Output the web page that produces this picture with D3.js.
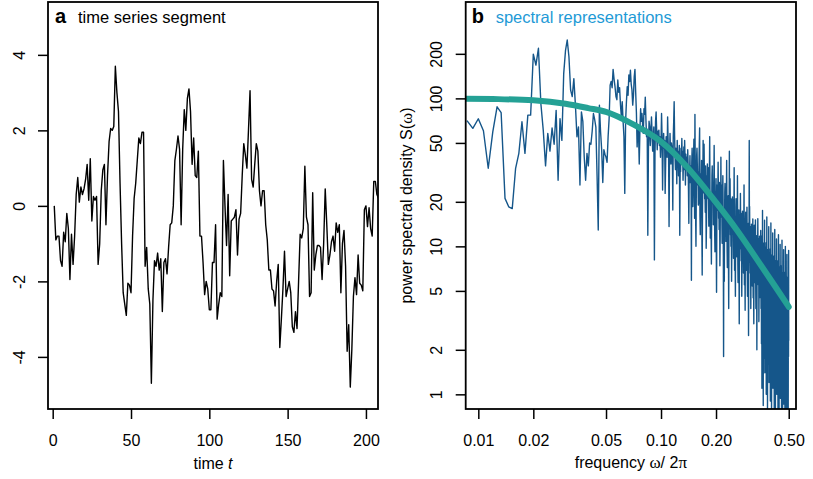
<!DOCTYPE html>
<html>
<head>
<meta charset="utf-8">
<script src="https://cdn.jsdelivr.net/npm/d3@7"></script>
<style>
  body { margin: 0; background: #fff; }
  svg { display: block; font-family: "Liberation Sans", Arial, Helvetica, sans-serif; }
</style>
</head>
<body>
<div id="chart"></div>
<script>
// panel a: time series segment, value at t = 1, 2, 3, ...
let seriesValues = [
  0.0, -0.9, -0.8, -0.8, -1.45, -1.6, -0.7, -0.95, -0.2, -0.6,
  -1.95, -0.75, -1.55, -0.8, 0.3, 0.75, 0.1, 0.5, 0.3, 0.45,
  0.7, 1.1, 0.15, 1.25, -0.4, 0.25, 0.15, 0.25, -1.55, -1.0,
  0.4, 0.95, 1.1, -0.5, 0.8, 1.7, 2.05, 2.0, 2.1, 3.7,
  3.0, 2.5, 0.6, -1.0, -2.3, -2.6, -2.9, -2.05, -2.1, -2.3,
  -0.8, 0.2, 0.6, 1.2, 1.8, 1.65, 1.95, 1.95, -1.6, -1.1,
  -2.2, -2.6, -4.7, -2.5, -1.45, -1.6, -1.25, -1.7, -1.4, -2.8,
  -1.5, -1.4, -1.8, -1.1, -0.5, -0.45, 0.0, 1.2, 1.5, 1.85,
  1.5, -0.5, 1.5, 2.55, 2.0, 2.85, 3.1, 2.5, 1.1, 1.8,
  0.8, 0.75, 1.45, -0.8, -0.8, -1.5, -2.35, -2.0, -2.2, -2.75,
  -2.75, -1.5, -1.5, -0.5, -3.0, -2.6, -2.3, -2.4, 1.2, 0.0,
  -1.05, 0.3, -1.85, -0.4, -0.35, -0.3, -0.1, -1.3, -0.35, -0.2,
  0.8, 1.65, 1.35, 1.0, 2.0, 3.05, 0.7, 0.5, 1.1, 1.65,
  1.45, 0.4, 0.0, 0.4, 0.4, -0.5, -0.9, -1.7, -1.7, -2.2,
  -2.25, -2.65, -2.0, -1.55, -3.75, -3.0, -2.2, -1.2, -2.4, -2.2,
  -2.0, -2.3, -3.2, -3.35, -2.8, -3.25, -2.0, -0.75, -0.85, -0.6,
  1.05, -0.3, -0.5, -2.4, -2.3, 0.35, -1.7, -1.3, -1.05, -1.05,
  -1.1, -1.95, -1.0, 0.45, -0.5, -1.55, -1.3, -0.95, -0.8, -1.2,
  -0.45, -0.7, -0.5, -2.3, -1.0, -0.65, -1.6, -3.85, -3.15, -4.8,
  -3.8, -2.4, -1.9, -2.35, -1.3, -2.05, -2.1, -2.25, -0.1, 0.0,
  -0.55, -0.05, -0.6, -0.8, 0.65, 0.65, 0.3, 0.2
];
let timeTicks = [0, 50, 100, 150, 200];
let seriesTicks = [-4, -2, 0, 2, 4];

// panel b: periodogram, frequency = k / psdLength for k = psdFirstIndex, ...
let psdFirstIndex = 13;
let psdLength = 1500;
let psdValues = [
  // k = 13 ...
  70.7, 62.7, 72.8, 60.4, 33.7, 59.4, 87.7, 80, 21.1, 18.5,
  18, 33.7, 42.5, 69.5, 42.5, 77, 77, 199, 168, 218,
  92, 61, 35, 58, 44, 63, 49, 83, 28, 73,
  52, 147, 210, 248, 191, 114, 103, 136, 90, 55,
  64, 26, 81, 70, 40, 28, 42.5, 35, 50, 49,
  60, 79, 72, 64, 30, 12.9, 90, 60, 45, 27,
  45, 42, 40, 37, 55, 73, 123, 130, 118, 157,
  135, 120, 103,
  // k = 86 ...
  98, 133, 110, 118, 90, 75, 95, 70, 55, 22.8,
  70, 95, 120, 105, 144, 130, 155, 125, 114, 90,
  105, 140, 157, 110, 80, 47, 65, 58, 36, 62,
  85, 70, 79, 66, 58, 85, 78, 102, 72, 55,
  62, 11.9, 45, 70, 64, 48, 60, 75, 58, 44,
  55, 64, 8.1, 42, 70, 81, 60, 45, 60, 52,
  61, 48, 55, 40, 50, 79, 55, 24, 44, 58,
  46, 52, 22.8, 36, 55, 48, 40, 75, 52, 42,
  13.6, 40, 58, 44, 36, 50, 47, 42, 17.6, 55,
  70, 95, 56, 40, 33, 46, 42, 26.5, 52, 38,
  44, 30, 38, 48, 11.9, 36, 32, 46, 38, 53.6,
  36, 44, 28, 38, 47, 33, 52, 40, 26, 42,
  34, 40, 38, 30, 45, 36, 24, 14.3, 35, 30,
  41, 27, 33, 35, 5.9,
  // k = 221 ...
  37, 46, 28, 18.6, 25, 40, 53, 34, 15.5, 78,
  29, 16, 10, 23, 41, 46, 35, 26, 32, 19,
  20, 35, 49, 63, 16, 12, 23, 31, 26, 38,
  13, 6.4, 18, 28, 52, 23, 31, 49, 33, 21,
  25, 17, 35, 24, 9.7, 14.5, 30, 21, 36, 28,
  27, 34, 20.5, 13.7, 18, 30, 55, 25, 11.4, 16,
  21.7, 12, 7.6, 17.4, 30, 35, 26, 19.5, 24, 14,
  15.4, 27, 48, 25.6, 12.3, 9.2, 17.4, 23.6, 19.5, 28.7,
  9.7, 4.9, 13.6, 21, 26, 17.5, 23, 37, 25, 15.5,
  19.4, 13, 27, 18.5, 7.4, 11, 23, 15.7, 40, 21,
  21, 26, 15.8, 10.5, 14, 23, 30, 19, 8.8, 1.8,
  16.6, 9.1, 5.8, 13.3, 23, 26.6, 20, 15, 18.3, 10.8,
  12, 20.7, 38, 19.9, 9.5, 7.2, 13.5, 18.3, 15.1, 22,
  7.6, 3.8, 10.6, 16.6, 44, 13.6, 18.1, 28.7, 19.6, 12,
  15.1, 10, 20.9, 14.4, 5.8, 8.6, 18, 12.2, 21.6, 16.6,
  16.6, 20.7, 12.4, 8.3, 11, 17.9, 34, 15.2, 6.9, 9.7,
  13.1, 7.2, 4.6, 10.5, 18.3, 21, 15.7, 11.8, 14.4, 8.5,
  9.5, 16.4, 30, 15.8, 7.6, 5.7, 10.7, 14.5, 12, 17.6,
  6, 3, 8.4, 13.2, 16.2, 10.8, 14.4, 22.8, 15.6, 9.6,
  12.1, 8, 16.7, 11.5, 4.6, 6.9, 14.4, 9.8, 17.3, 13.2,
  13.2, 16.5, 9.9, 6.6, 8.8, 14.3, 26, 12.1, 5.5, 7.7,
  10.6, 5.8, 3.7, 8.5, 14.8, 17, 12.7, 9.5, 11.7, 6.9,
  7.7, 13.3, 18.4, 12.8, 6.1, 4.6, 8.7, 11.7, 9.7, 14.3,
  4.9, 2.5, 6.9, 10.8, 13.2, 52, 11.8, 18.6, 12.7, 7.8,
  9.9, 6.6, 13.6, 9.4, 3.8, 5.6, 11.8, 8, 14.1, 10.8,
  10.8, 13.5, 8.1, 5.4, 7.2, 11.7, 15.3, 9.9, 4.5, 6.3,
  8.7, 4.8, 3.0, 7, 12.2, 13.9, 10.4, 7.8, 9.6, 5.7,
  6.3, 10.9, 15.1, 10.5, 5, 3.8, 7.1, 9.7, 8, 11.8,
  4, 2.0, 5.7, 8.9, 10.9, 7.3, 9.7, 15.4, 10.5, 6.5,
  8.2, 5.5, 11.3, 7.8, 3.1, 4.7, 9.8, 6.6, 11.7, 9,
  9, 11.3, 6.8, 4.5, 6, 9.8, 12.8, 8.3, 3.8, 5.3,
  // k = 531 ...
  8.8, 2.2, 6.6, 11.7, 1.1, 5.1, 8, 3.3, 17.5, 4.4,
  5.6, 9.8, 2.5, 0.84, 7, 10.5, 3.9, 6.3, 1.75, 9.1,
  3.4, 7.5, 15, 5.1, 1.4, 6.5, 8.8, 2.7, 4.4, 9.9,
  7.9, 2, 5.9, 10.6, 1.0, 4.6, 7.3, 3, 15.8, 4,
  5, 8.8, 2.2, 0.76, 6.3, 9.5, 3.5, 5.7, 1.6, 8.2,
  3.1, 6.8, 13.6, 4.7, 1.2, 5.9, 8.1, 2.5, 4, 9,
  7.2, 1.8, 5.4, 9.6, 0.9, 4.2, 6.6, 2.7, 14.4, 3.6,
  4.6, 8.1, 2, 0.7, 5.8, 8.7, 3.2, 5.2, 1.45, 7.5,
  2.8, 6.2, 12.3, 4.2, 1.1, 5.3, 7.3, 2.2, 3.6, 8.1,
  6.5, 1.6, 4.9, 8.6, 0.8, 3.8, 5.9, 2.4, 13, 3.2,
  4.2, 7.4, 1.9, 0.64, 5.3, 8, 2.9, 4.8, 1.3, 6.9,
  2.6, 5.6, 11.2, 3.8, 1.0, 4.8, 6.6, 2, 3.3, 7.4,
  6, 1.5, 4.5, 8, 0.75, 3.5, 5.5, 2.3, 12, 3,
  3.8, 6.7, 1.7, 0.58, 4.8, 7.2, 2.6, 4.3, 1.2, 6.2,
  2.4, 5.2, 10.3, 3.5, 0.94, 4.5, 6.1, 1.9, 3.1, 6.8,
  5.5, 1.4, 4.1, 7.4, 0.7, 3.2, 5.1, 2.1, 11, 2.8,
  3.5, 6.2, 1.5, 0.53, 4.4, 6.6, 2.4, 4, 1.1, 5.7,
  2.2, 4.7, 9.5, 3.2, 0.86, 4.1, 5.6, 1.7, 2.8, 6.2,
  5, 1.3, 3.8, 6.7, 0.63, 2.9, 4.6, 1.9, 10, 2.5,
  3.3, 5.7, 1.4, 0.5, 4.1, 6.2, 2.3, 3.7, 1.0, 5.3,
  2, 4.4, 8.8, 3, 0.8, 3.8, 5.2, 1.6, 2.6, 5.8,
  4.7, 1.2, 3.5, 6.2, 0.6, 2.7, 4.3, 1.8, 9.4, 2.3
];

// smooth spectral density (teal curve)
let curveFreqs = [0.0085, 0.012, 0.02, 0.03, 0.04, 0.05, 0.07, 0.1, 0.14, 0.2, 0.26, 0.33, 0.42, 0.5];
let curveValues = [99.5, 99, 97, 92, 86, 81, 67, 51, 34, 19.8, 12.9, 8.4, 5.4, 3.9];

let freqTicks = [0.01, 0.02, 0.05, 0.1, 0.2, 0.5];
let freqTickLabels = ["0.01", "0.02", "0.05", "0.10", "0.20", "0.50"];
let psdTicks = [1, 2, 5, 10, 20, 50, 100, 200];

let width = 813;
let height = 479;

let boxA = { left: 48, right: 378, top: 2, bottom: 409 };
let boxB = { left: 465.7, right: 796, top: 2, bottom: 409 };

let svg = d3
  .select("#chart")
  .append("svg")
  .attr("width", width)
  .attr("height", height);

let defs = svg.append("defs");
addClip("clipA", boxA);
addClip("clipB", boxB);

function addClip(id, box) {
  defs
    .append("clipPath")
    .attr("id", id)
    .append("rect")
    .attr("x", box.left)
    .attr("y", box.top)
    .attr("width", box.right - box.left)
    .attr("height", box.bottom - box.top);
}

// ---------- panel a ----------
let xA = d3.scaleLinear().domain([-3, 207.7]).range([boxA.left, boxA.right]);
let yA = d3.scaleLinear().domain([-5.38, 5.4]).range([boxA.bottom, boxA.top]);

let seriesData = seriesValues.map(function(v, i) {
  return { t: i + 1, v: v };
});

svg
  .append("path")
  .datum(seriesData)
  .attr("clip-path", "url(#clipA)")
  .attr("fill", "none")
  .attr("stroke", "#000")
  .attr("stroke-width", 1.4)
  .attr("stroke-linejoin", "round")
  .attr("d", d3.line().x(d => xA(d.t)).y(d => yA(d.v)));

drawAxes(
  boxA,
  d3.axisBottom(xA).tickValues(timeTicks).tickFormat(d => String(d)),
  d3.axisLeft(yA).tickValues(seriesTicks).tickFormat(d => String(d)),
  23
);

svg
  .append("text")
  .attr("x", 55)
  .attr("y", 22.7)
  .attr("font-size", 20)
  .attr("font-weight", "bold")
  .text("a");
svg
  .append("text")
  .attr("x", 78)
  .attr("y", 22.7)
  .attr("font-size", 16.5)
  .text("time series segment");

let xTitleA = svg
  .append("text")
  .attr("x", (boxA.left + boxA.right) / 2)
  .attr("y", 469)
  .attr("font-size", 16)
  .attr("text-anchor", "middle");
xTitleA.append("tspan").text("time ");
xTitleA.append("tspan").attr("font-style", "italic").text("t");

// ---------- panel b ----------
let xB = d3.scaleLog().domain([0.00853, 0.548]).range([boxB.left, boxB.right]);
let yB = d3.scaleLog().domain([0.796, 448]).range([boxB.bottom, boxB.top]);

let psdData = psdValues.map(function(v, i) {
  return { f: (psdFirstIndex + i) / psdLength, v: v };
});
let curveData = curveFreqs.map(function(f, i) {
  return { f: f, v: curveValues[i] };
});

svg
  .append("path")
  .datum(psdData)
  .attr("clip-path", "url(#clipB)")
  .attr("fill", "none")
  .attr("stroke", "#15568A")
  .attr("stroke-width", 1.4)
  .attr("stroke-linejoin", "round")
  .attr("d", d3.line().x(d => xB(d.f)).y(d => yB(d.v)));

svg
  .append("path")
  .datum(curveData)
  .attr("clip-path", "url(#clipB)")
  .attr("fill", "none")
  .attr("stroke", "#24A195")
  .attr("stroke-width", 6)
  .attr("stroke-linecap", "round")
  .attr(
    "d",
    d3
      .line()
      .curve(d3.curveMonotoneX)
      .x(d => xB(d.f))
      .y(d => yB(d.v))
  );

drawAxes(
  boxB,
  d3.axisBottom(xB).tickValues(freqTicks).tickFormat((d, i) => freqTickLabels[i]),
  d3.axisLeft(yB).tickValues(psdTicks).tickFormat(d => String(d)),
  24
);

svg
  .append("text")
  .attr("x", 471.7)
  .attr("y", 23.3)
  .attr("font-size", 20)
  .attr("font-weight", "bold")
  .text("b");
svg
  .append("text")
  .attr("x", 495.7)
  .attr("y", 23)
  .attr("font-size", 16.5)
  .attr("fill", "#1E9AD6")
  .text("spectral representations");

let xTitleB = svg
  .append("text")
  .attr("x", (boxB.left + boxB.right) / 2)
  .attr("y", 468)
  .attr("font-size", 16)
  .attr("text-anchor", "middle");
xTitleB.append("tspan").text("frequency ");
xTitleB.append("tspan").attr("font-family", "Liberation Serif, serif").attr("font-size", 17).text("ω");
xTitleB.append("tspan").text("/ 2");
xTitleB.append("tspan").attr("font-family", "Liberation Serif, serif").attr("font-size", 17).text("π");

let yTitleB = svg
  .append("text")
  .attr("transform", "translate(412," + (boxB.top + boxB.bottom) / 2 + ") rotate(-90)")
  .attr("font-size", 16)
  .attr("text-anchor", "middle");
yTitleB.append("tspan").text("power spectral density S(");
yTitleB.append("tspan").attr("font-family", "Liberation Serif, serif").attr("font-size", 17).text("ω");
yTitleB.append("tspan").text(")");

// ---------- shared helpers ----------
function drawAxes(box, xAxis, yAxis, labelGap) {
  let gx = svg
    .append("g")
    .attr("transform", "translate(0," + box.bottom + ")")
    .call(xAxis.tickSize(10).tickSizeOuter(0));
  gx.select(".domain").remove();
  gx.selectAll(".tick line").attr("stroke-width", 1.5);
  gx.selectAll(".tick text")
    .attr("y", 37)
    .attr("dy", 0)
    .attr("font-size", 16)
    .attr("font-family", "Liberation Sans, Arial, sans-serif")
    .attr("fill", "#000");

  let gy = svg
    .append("g")
    .attr("transform", "translate(" + box.left + ",0)")
    .call(yAxis.tickSize(10).tickSizeOuter(0));
  gy.select(".domain").remove();
  gy.selectAll(".tick line").attr("stroke-width", 1.5);
  gy.selectAll(".tick text")
    .attr("transform", "rotate(-90)")
    .attr("x", 0)
    .attr("y", -labelGap)
    .attr("dy", 0)
    .attr("text-anchor", "middle")
    .attr("font-size", 16)
    .attr("font-family", "Liberation Sans, Arial, sans-serif")
    .attr("fill", "#000");

  svg
    .append("rect")
    .attr("x", box.left)
    .attr("y", box.top)
    .attr("width", box.right - box.left)
    .attr("height", box.bottom - box.top)
    .attr("fill", "none")
    .attr("stroke", "#000")
    .attr("stroke-width", 1.8);
}
</script>
</body>
</html>
